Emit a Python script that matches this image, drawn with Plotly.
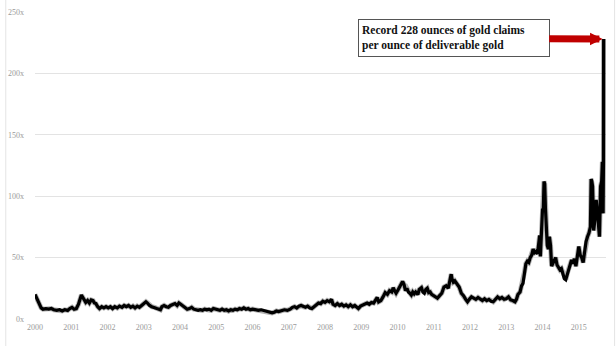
import plotly.graph_objects as go

# decimal years and ratio values (ounces of claims per deliverable ounce)
years = [
    2000.00, 2000.03, 2000.06, 2000.09, 2000.12, 2000.17, 2000.22, 2000.30, 2000.38, 2000.45,
    2000.52, 2000.60, 2000.68, 2000.75, 2000.82, 2000.90, 2000.96, 2001.02, 2001.08, 2001.14,
    2001.20, 2001.25, 2001.28, 2001.32, 2001.36, 2001.40, 2001.45, 2001.50, 2001.55, 2001.60,
    2001.64, 2001.68, 2001.73, 2001.78, 2001.84, 2001.90, 2001.96, 2002.02, 2002.08, 2002.14,
    2002.20, 2002.27, 2002.33, 2002.40, 2002.46, 2002.52, 2002.58, 2002.64, 2002.70, 2002.76,
    2002.82, 2002.88, 2002.94, 2003.00, 2003.06, 2003.10, 2003.16, 2003.22, 2003.30, 2003.36,
    2003.42, 2003.46, 2003.50, 2003.56, 2003.62, 2003.68, 2003.74, 2003.80, 2003.86, 2003.92,
    2003.97, 2004.02, 2004.08, 2004.14, 2004.20, 2004.26, 2004.32, 2004.38, 2004.44, 2004.50,
    2004.56, 2004.62, 2004.68, 2004.74, 2004.80, 2004.86, 2004.92, 2004.98, 2005.04, 2005.10,
    2005.16, 2005.22, 2005.28, 2005.34, 2005.40, 2005.46, 2005.52, 2005.58, 2005.64, 2005.70,
    2005.76, 2005.82, 2005.88, 2005.94, 2006.00, 2006.08, 2006.16, 2006.24, 2006.32, 2006.40,
    2006.48, 2006.54, 2006.60, 2006.66, 2006.72, 2006.80, 2006.88, 2006.96, 2007.04, 2007.10,
    2007.16, 2007.22, 2007.28, 2007.34, 2007.40, 2007.46, 2007.52, 2007.58, 2007.64, 2007.70,
    2007.76, 2007.82, 2007.88, 2007.94, 2008.00, 2008.06, 2008.12, 2008.18, 2008.22, 2008.28,
    2008.34, 2008.40, 2008.46, 2008.52, 2008.58, 2008.64, 2008.70, 2008.76, 2008.82, 2008.88,
    2008.92, 2008.98, 2009.04, 2009.10, 2009.16, 2009.22, 2009.28, 2009.34, 2009.40, 2009.44,
    2009.48, 2009.54, 2009.60, 2009.66, 2009.72, 2009.78, 2009.84, 2009.88, 2009.92, 2009.96,
    2010.02, 2010.08, 2010.14, 2010.18, 2010.22, 2010.26, 2010.30, 2010.34, 2010.38, 2010.42,
    2010.46, 2010.50, 2010.56, 2010.60, 2010.66, 2010.70, 2010.74, 2010.78, 2010.82, 2010.86,
    2010.90, 2010.94, 2011.00, 2011.06, 2011.10, 2011.16, 2011.22, 2011.28, 2011.34, 2011.40,
    2011.44, 2011.48, 2011.50, 2011.54, 2011.58, 2011.62, 2011.66, 2011.70, 2011.76, 2011.82,
    2011.88, 2011.93, 2011.98, 2012.04, 2012.10, 2012.16, 2012.22, 2012.28, 2012.34, 2012.40,
    2012.46, 2012.52, 2012.58, 2012.64, 2012.70, 2012.76, 2012.82, 2012.88, 2012.94, 2013.00,
    2013.06, 2013.12, 2013.18, 2013.24, 2013.28, 2013.32, 2013.38, 2013.42, 2013.46, 2013.50,
    2013.54, 2013.58, 2013.62, 2013.66, 2013.70, 2013.74, 2013.78, 2013.82, 2013.86, 2013.90,
    2013.92, 2013.94, 2013.97, 2014.00, 2014.02, 2014.04, 2014.06, 2014.08, 2014.10, 2014.13,
    2014.16, 2014.19, 2014.22, 2014.25, 2014.28, 2014.32, 2014.36, 2014.40, 2014.44, 2014.48,
    2014.52, 2014.56, 2014.60, 2014.64, 2014.68, 2014.72, 2014.76, 2014.80, 2014.84, 2014.88,
    2014.92, 2014.96, 2015.00, 2015.04, 2015.08, 2015.12, 2015.16, 2015.20, 2015.24, 2015.28,
    2015.32, 2015.34, 2015.36, 2015.38, 2015.41, 2015.44, 2015.48, 2015.51, 2015.55, 2015.57,
    2015.60, 2015.63, 2015.65, 2015.67, 2015.68, 2015.685,
]
ratio = [
    20, 18, 15, 14, 11, 9, 8, 8.5, 8, 8.5,
    7.5, 7, 7.5, 6.5, 7.5, 7, 8.5, 9.5, 8, 8.5,
    12, 17, 19.5, 17.5, 15, 13.5, 15, 13, 15.5, 15,
    13, 12.5, 10, 8.5, 10, 9, 10, 9, 10, 8.5,
    10, 9, 10.5, 9.5, 11, 10, 11, 9.5, 10.5, 9,
    10.5, 9.5, 11, 12.5, 14, 13, 11, 10, 9.5, 8.5,
    8, 7.5, 10, 11, 10, 9.5, 11, 12, 12.5, 11,
    13, 12, 10.5, 9, 8, 8.5, 9.5, 8, 7.5, 7,
    7.5, 7, 8, 7.5, 8, 7, 8.5, 8, 7.5, 7,
    8, 7, 7.5, 6.5, 7.5, 7, 8, 7.5, 8.5, 8,
    9, 8, 8.5, 7.5, 8, 7.5, 7, 7.5, 7, 6.5,
    6, 5, 5.5, 6.5, 6, 7, 7.5, 7, 8, 9.5,
    10, 9, 10.5, 11, 10, 9.5, 10.5, 9, 8.5, 10,
    11.5, 13, 12.5, 14.5, 13.5, 15, 14, 16, 12, 11,
    12.5, 11, 12, 10.5, 11.5, 10, 11.5, 10, 11, 9.5,
    8.5, 10.5, 11.5, 12, 13, 12, 13.5, 13, 16, 17.5,
    14, 15, 18, 21.5, 20, 23, 22, 25.5, 23, 21,
    24, 27, 30.5, 28, 23, 25, 22, 21, 19.5, 22,
    20.5, 22, 20, 24, 25.5, 22, 21, 24, 25, 21.5,
    22, 20, 19, 17.5, 17, 19, 21, 26, 27, 25,
    30, 36.5, 33, 30, 31, 29, 28, 26, 21, 19,
    16, 14, 16, 18, 17, 16, 17.5, 16, 15, 16.5,
    15, 16, 14.5, 14, 16, 18, 16.5, 17.5, 16, 16.5,
    18, 15.5, 15, 14, 16, 20, 22, 27, 29, 38,
    45, 47, 46, 50, 52, 57, 54, 55, 53, 63,
    68, 51, 75, 90, 88, 112, 110, 90, 72, 60,
    57, 67, 60, 43, 45, 48, 50, 44, 42, 40,
    41, 37, 33, 32, 37, 40, 44, 48, 45, 49,
    43, 50, 59, 52, 50, 46, 55, 63, 67, 70,
    75, 114, 112, 108, 72, 80, 97, 88, 70, 67,
    108, 112, 128, 86, 128, 228,
]

y_ticks = [0, 50, 100, 150, 200, 250]
x_ticks = list(range(2000, 2016))
note_text = "<b>Record 228 ounces of gold claims<br>per ounce of deliverable gold</b>"

tick_font = dict(family="Liberation Serif", size=8, color="#9a9a9a")

fig = go.Figure()
# soft drop shadow drawn on offset overlay axes
fig.add_trace(go.Scatter(x=years, y=ratio, mode="lines", xaxis="x2", yaxis="y2",
                         line=dict(color="rgba(0,0,0,0.30)", width=5),
                         hoverinfo="skip", showlegend=False))
fig.add_trace(go.Scatter(x=years, y=ratio, mode="lines",
                         line=dict(color="#000000", width=3.2),
                         showlegend=False))

x_range = [2000, 2015.75]
y_range = [0, 250]

fig.update_layout(
    width=616, height=346,
    margin=dict(l=31, r=8, t=12, b=24),
    paper_bgcolor="white", plot_bgcolor="white",
    xaxis=dict(domain=[0, 0.9965], range=x_range, tickvals=x_ticks,
               ticktext=[str(v) for v in x_ticks], showgrid=False,
               zeroline=False, showline=False, tickfont=tick_font,
               ticks="", ticklabelstandoff=2),
    yaxis=dict(domain=[0.0097, 1], range=y_range, tickvals=y_ticks,
               ticktext=[f"{v}x" for v in y_ticks], showgrid=True,
               gridcolor="#e3e3e3", gridwidth=1, zeroline=False,
               showline=False, tickfont=tick_font, ticks="",
               ticklabelstandoff=10),
    xaxis2=dict(domain=[0.0035, 1], range=x_range, visible=False, overlaying="x"),
    yaxis2=dict(domain=[0, 0.9903], range=y_range, visible=False, overlaying="y"),
)

# faint frame edges at the left and right of the picture
for xp in (-0.051, 1.0115):
    fig.add_shape(type="line", xref="paper", yref="paper", x0=xp, x1=xp,
                  y0=-0.08, y1=1.04, line=dict(color="#e4e4e4", width=1))

# record annotation with red arrow pointing at the final value
fig.add_annotation(
    x=years[-1], y=ratio[-1], xref="x", yref="y",
    text=note_text, align="left", showarrow=True,
    ax=-150, ay=-1, axref="pixel", ayref="pixel",
    arrowhead=2, arrowsize=0.36, arrowwidth=7, arrowcolor="#C00000",
    standoff=1,
    font=dict(family="Liberation Serif", size=11.5, color="#111111"),
    bgcolor="white", bordercolor="#555555", borderwidth=1, borderpad=3,
    width=184, height=30,
)

fig.write_html("out.html")
